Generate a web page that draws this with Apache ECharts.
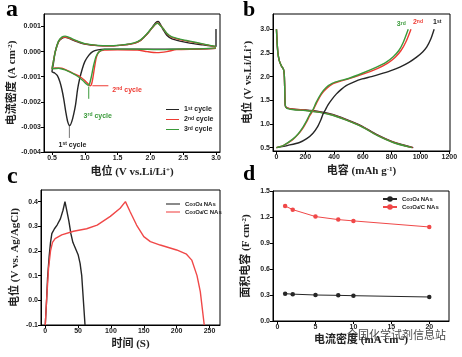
<!DOCTYPE html>
<html><head><meta charset="utf-8">
<script src="https://cdn.jsdelivr.net/npm/echarts@6/dist/echarts.min.js"></script>
<style>html,body{margin:0;padding:0;background:#fff}#c{width:462px;height:357px}</style>
</head><body><div id="c"></div>
<script>
// ---------- Panel a: CV curves (V, A cm^-2) ----------
const cvCycle1 = [[3.0,0.00013],[2.8,0.00011],[2.5,0.0001],[2.2,0.0001],[1.8,0.0001],[1.5,0.0001],[1.3,0.0001],[1.2,0.00007],[1.12,0.0],[1.06,-0.00015],[1.0,-0.0004],[0.96,-0.0007],[0.92,-0.0011],[0.89,-0.0015],[0.86,-0.0021],[0.83,-0.0025],[0.8,-0.0028],[0.77,-0.00295],[0.74,-0.0028],[0.71,-0.0024],[0.68,-0.0019],[0.65,-0.0015],[0.62,-0.0012],[0.58,-0.00095],[0.54,-0.00085],[0.5,-0.0008],[0.52,-0.0005],[0.55,0.0],[0.6,0.0004],[0.65,0.00053],[0.7,0.00057],[0.75,0.00054],[0.8,0.00048],[0.9,0.00038],[1.0,0.0003],[1.2,0.00024],[1.4,0.00023],[1.6,0.00027],[1.75,0.00033],[1.85,0.00045],[1.95,0.0007],[2.03,0.00098],[2.08,0.00115],[2.12,0.0012],[2.16,0.00105],[2.2,0.00085],[2.25,0.00065],[2.32,0.00052],[2.45,0.00042],[2.6,0.00034],[2.8,0.00027],[2.95,0.00022],[3.0,0.0002],[3.0,0.0009]];
const cvCycle2 = [[3.0,0.00013],[2.7,0.0001],[2.4,0.00008],[2.25,0.0],[2.1,-0.00004],[1.95,0.0],[1.8,0.00006],[1.5,0.00007],[1.3,0.00006],[1.22,0.0],[1.18,-0.0002],[1.15,-0.0006],[1.12,-0.0011],[1.1,-0.00132],[1.08,-0.00136],[1.05,-0.00128],[1.0,-0.00115],[0.93,-0.001],[0.85,-0.0009],[0.75,-0.00077],[0.65,-0.00066],[0.55,-0.00065],[0.5,-0.00068],[0.52,-0.0004],[0.55,0.0],[0.6,0.0004],[0.65,0.00055],[0.7,0.00058],[0.75,0.00055],[0.8,0.0005],[0.9,0.0004],[1.0,0.00031],[1.2,0.00024],[1.4,0.00023],[1.6,0.00027],[1.75,0.00033],[1.85,0.00045],[1.95,0.0007],[2.03,0.00095],[2.08,0.0011],[2.11,0.00114],[2.15,0.00105],[2.2,0.0009],[2.25,0.00072],[2.32,0.00058],[2.45,0.00048],[2.6,0.0004],[2.8,0.0003],[2.95,0.00022],[3.0,0.0002]];
const cvCycle3 = [[3.0,0.00015],[2.7,0.00011],[2.4,0.0001],[2.1,0.00008],[1.8,0.0001],[1.5,0.0001],[1.3,0.00009],[1.22,0.0],[1.17,-0.0002],[1.13,-0.0006],[1.1,-0.001],[1.07,-0.0013],[1.05,-0.00134],[1.02,-0.00128],[0.97,-0.00115],[0.9,-0.001],[0.8,-0.00085],[0.7,-0.00073],[0.6,-0.00066],[0.5,-0.00068],[0.52,-0.0004],[0.55,0.0],[0.6,0.00042],[0.65,0.00058],[0.7,0.00062],[0.75,0.00058],[0.8,0.00052],[0.9,0.00041],[1.0,0.00032],[1.2,0.00025],[1.4,0.00024],[1.6,0.00028],[1.75,0.00035],[1.85,0.00047],[1.95,0.00072],[2.03,0.00096],[2.08,0.0011],[2.11,0.00113],[2.15,0.00104],[2.2,0.0009],[2.25,0.00073],[2.32,0.0006],[2.45,0.0005],[2.6,0.00042],[2.8,0.00031],[2.95,0.00023],[3.0,0.00022]];

// ---------- Panel b: charge/discharge (mAh g^-1, V) ----------
const dis1 = [[0,3.0],[4,2.75],[10,2.5],[20,2.33],[35,2.22],[48,2.16],[54,2.05],[57,1.8],[59,1.5],[62,1.38],[72,1.34],[120,1.31],[200,1.295],[300,1.26],[390,1.2],[480,1.1],[590,0.96],[695,0.78],[810,0.62],[950,0.5]];
const dis2 = [[0,3.0],[4,2.75],[10,2.5],[20,2.33],[35,2.22],[48,2.16],[54,2.05],[57,1.8],[59,1.5],[62,1.38],[72,1.34],[120,1.31],[200,1.29],[300,1.25],[390,1.19],[480,1.09],[590,0.95],[695,0.77],[810,0.615],[945,0.5]];
const dis3 = [[0,3.0],[4,2.75],[10,2.5],[20,2.33],[35,2.22],[48,2.16],[54,2.05],[57,1.8],[59,1.5],[62,1.38],[72,1.33],[120,1.3],[200,1.285],[300,1.245],[390,1.185],[480,1.085],[590,0.945],[695,0.765],[810,0.61],[940,0.5]];
const chg1 = [[0,0.5],[80,0.55],[160,0.61],[210,0.69],[252,0.8],[285,0.94],[310,1.1],[322,1.2],[340,1.3],[357,1.4],[385,1.52],[415,1.63],[450,1.73],[484,1.81],[540,1.89],[595,1.95],[660,2.0],[718,2.05],[790,2.12],[857,2.2],[920,2.3],[973,2.41],[1015,2.52],[1043,2.62],[1070,2.78],[1095,3.0]];
const chg2 = [[0,0.5],[50,0.55],[113,0.67],[150,0.78],[185,0.92],[212,1.06],[232,1.18],[256,1.3],[278,1.44],[313,1.63],[348,1.75],[393,1.85],[440,1.9],[500,1.95],[600,2.05],[700,2.17],[770,2.28],[825,2.41],[865,2.55],[900,2.74],[934,3.0]];
const chg3 = [[0,0.5],[50,0.55],[113,0.68],[150,0.79],[183,0.93],[210,1.07],[229,1.19],[253,1.3],[275,1.45],[310,1.64],[345,1.77],[390,1.86],[438,1.91],[500,1.96],[595,2.07],[695,2.2],[760,2.3],[811,2.42],[850,2.55],[880,2.72],[915,3.0]];

// ---------- Panel c: GCD (s, V vs Ag/AgCl) ----------
const gcdCo3O4 = [[0,-0.1],[2,0.0],[3.5,0.09],[6,0.18],[8,0.235],[10,0.27],[14,0.29],[18,0.305],[23,0.33],[27,0.365],[30,0.4],[33,0.36],[36,0.32],[39,0.27],[42,0.235],[46,0.21],[50,0.185],[53,0.15],[55.5,0.1],[57,0.04],[58.5,-0.02],[60.5,-0.1]];
const gcdCo3O4C = [[0,-0.1],[2,0.0],[5,0.13],[8,0.2],[11,0.235],[15,0.25],[25,0.265],[43,0.28],[63,0.29],[79,0.305],[99,0.34],[114,0.373],[122,0.4],[129,0.36],[139,0.305],[150,0.258],[160,0.238],[175,0.224],[200,0.204],[215,0.187],[223,0.163],[231,0.1],[236,0.035],[242,-0.1]];

// ---------- Panel d: areal capacitance ----------
const dCurrent = [1,2,5,8,10,20];
const dCapCo3O4 = [0.315,0.31,0.3,0.296,0.292,0.277];
const dCapCo3O4C = [1.327,1.285,1.205,1.17,1.155,1.085];

// ---------- tick values ----------
const aXTicks = [0.5,1.0,1.5,2.0,2.5,3.0];
const aYTicks = [-0.004,-0.003,-0.002,-0.001,0,0.001];
const bXTicks = [0,200,400,600,800,1000,1200];
const bYTicks = [0.5,1.0,1.5,2.0,2.5,3.0];
const cXTicks = [0,50,100,150,200,250];
const cYTicks = [-0.1,0,0.1,0.2,0.3,0.4];
const dXTicks = [0,5,10,15,20];
const dYTicks = [0,0.3,0.6,0.9,1.2,1.5];

const BLACK = '#262626', RED = '#ee3b33', GREEN = '#3a9a3a';
const SERIF = "'Liberation Serif','Noto Sans CJK SC',serif";
const SANS = "'Liberation Sans',Arial,sans-serif";

const nameStyle = {
  fontSize: 11, fontWeight: 'bold', fontFamily: SERIF, color: '#222',
  rich: { sup: { fontSize: 7, fontWeight: 'bold', fontFamily: SERIF, color: '#222', verticalAlign: 'top' } }
};

function axis(gi, min, max, ticks, dec, name, gap) {
  return {
    type: 'value', gridIndex: gi, min: min, max: max,
    name: name, nameLocation: 'middle', nameGap: gap, nameTextStyle: nameStyle,
    axisLine: { show: true, onZero: false, lineStyle: { color: '#000', width: 1 } },
    axisTick: { show: true, inside: false, length: 3, customValues: ticks, lineStyle: { color: '#000', width: 1 } },
    axisLabel: { customValues: ticks, formatter: v => Number(v).toFixed(dec), fontSize: 7, fontWeight: 'bold',
      fontFamily: SANS, color: '#222', margin: 3 },
    splitLine: { show: false }
  };
}

function line(name, data, color, xi, smooth) {
  return { type: 'line', name: name, data: data, xAxisIndex: xi, yAxisIndex: xi, showSymbol: false,
    symbol: 'none', smooth: smooth, lineStyle: { color: color, width: 1.4 }, itemStyle: { color: color }, z: 3,
    animation: false };
}

const legendMap = {
  '1st cycle': '1{sup|st} cycle', '2nd cycle': '2{sup|nd} cycle', '3rd cycle': '3{sup|rd} cycle',
  'c_Co3O4': 'Co{sub|3}O{sub|4} NAs', 'c_Co3O4C': 'Co{sub|3}O{sub|4}/C NAs',
  'd_Co3O4': 'Co{sub|3}O{sub|4} NAs', 'd_Co3O4C': 'Co{sub|3}O{sub|4}/C NAs'
};
const legTS = (fs) => ({ fontSize: fs, fontWeight: 'bold', fontFamily: SANS, color: '#222',
  rich: { sup: { fontSize: fs - 2, fontWeight: 'bold', fontFamily: SANS, color: '#222', verticalAlign: 'top' },
          sub: { fontSize: fs - 2, fontWeight: 'bold', fontFamily: SANS, color: '#222', verticalAlign: 'bottom' } } });

const chart = echarts.init(document.getElementById('c'), null, { renderer: 'canvas' });
const gridStyle = { show: true, borderColor: '#000', borderWidth: 1, backgroundColor: 'transparent', containLabel: false };

chart.setOption({
  animation: false,
  backgroundColor: '#fff',
  grid: [
    Object.assign({ left: 44, top: 14, width: 176, height: 138 }, gridStyle),
    Object.assign({ left: 273, top: 14, width: 177, height: 137 }, gridStyle),
    Object.assign({ left: 41, top: 190, width: 179, height: 135 }, gridStyle),
    Object.assign({ left: 273, top: 191, width: 176, height: 130 }, gridStyle)
  ],
  xAxis: [
    axis(0, 0.378, 3.061, aXTicks, 1, '电位 (V vs.Li/Li{sup|+})', 15),
    axis(1, -24, 1205, bXTicks, 0, '电容 (mAh g{sup|-1})', 15),
    axis(2, -6.5, 266, cXTicks, 0, '时间 (S)', 14),
    axis(3, -0.6, 22.6, dXTicks, 0, '电流密度 (mA cm{sup|-2})', 14)
  ],
  yAxis: [
    axis(0, -0.004, 0.0015, aYTicks, 3, '电流密度 (A cm{sup|-2})', 25),
    axis(1, 0.43, 3.32, bYTicks, 1, '电位 (V vs.Li/Li{sup|+})', 19),
    axis(2, -0.1, 0.447, cYTicks, 1, '电位 (V vs. Ag/AgCl)', 20),
    axis(3, 0, 1.5, dYTicks, 1, '面积电容 (F cm{sup|-2})', 21)
  ],
  legend: [
    { data: ['1st cycle', '2nd cycle', '3rd cycle'], orient: 'vertical', left: 166, top: 106, padding: 0,
      itemGap: 3, itemWidth: 13, itemHeight: 8, icon: 'path://M0,4L13,4L13,5L0,5Z',
      formatter: n => legendMap[n], textStyle: legTS(7), selectedMode: false },
    { data: ['c_Co3O4', 'c_Co3O4C'], orient: 'vertical', left: 166, top: 201, padding: 0,
      itemGap: 2, itemWidth: 14, itemHeight: 8, icon: 'path://M0,4L13,4L13,5L0,5Z',
      formatter: n => legendMap[n], textStyle: legTS(6), selectedMode: false },
    { data: ['d_Co3O4', 'd_Co3O4C'], orient: 'vertical', left: 382, top: 196, padding: 0,
      itemGap: 2, itemWidth: 14, itemHeight: 7,
      formatter: n => legendMap[n], textStyle: legTS(6), selectedMode: false }
  ],
  series: [
    line('1st cycle', cvCycle1, BLACK, 0, 0.25),
    line('2nd cycle', cvCycle2, RED, 0, 0.25),
    line('3rd cycle', cvCycle3, GREEN, 0, 0.25),
    line('b_dis1', dis1, BLACK, 1, 0.25),
    line('b_dis2', dis2, RED, 1, 0.25),
    line('b_dis3', dis3, GREEN, 1, 0.25),
    line('b_chg1', chg1, BLACK, 1, 0.25),
    line('b_chg2', chg2, RED, 1, 0.25),
    line('b_chg3', chg3, GREEN, 1, 0.25),
    line('c_Co3O4', gcdCo3O4, BLACK, 2, false),
    line('c_Co3O4C', gcdCo3O4C, '#f04848', 2, false),
    { type: 'line', name: 'd_Co3O4', xAxisIndex: 3, yAxisIndex: 3, data: dCurrent.map((x, i) => [x, dCapCo3O4[i]]),
      symbol: 'circle', symbolSize: 4.5, lineStyle: { color: BLACK, width: 1 }, itemStyle: { color: BLACK } },
    { type: 'line', name: 'd_Co3O4C', xAxisIndex: 3, yAxisIndex: 3, data: dCurrent.map((x, i) => [x, dCapCo3O4C[i]]),
      symbol: 'circle', symbolSize: 4.5, lineStyle: { color: '#f04848', width: 1 }, itemStyle: { color: '#f04848' } }
  ]
});

// ---------- annotations placed from data coordinates ----------
function px(gi, pt) { return chart.convertToPixel({ xAxisIndex: gi, yAxisIndex: gi }, pt); }
const annoTS = (color, fs) => ({ fontSize: fs, fontWeight: 'bold', fontFamily: SANS, fill: color,
  rich: { sup: { fontSize: fs - 2, fontWeight: 'bold', fontFamily: SANS, fill: color, verticalAlign: 'top' } } });

const p1 = px(0, [0.765, -0.00292]), p1b = px(0, [0.765, -0.00344]);
const p2 = px(0, [1.1, -0.00136]), p3 = px(0, [1.06, -0.00139]), p3b = px(0, [1.06, -0.00188]);
const eB1 = px(1, chg1[chg1.length - 1]), eB2 = px(1, chg2[chg2.length - 1]), eB3 = px(1, chg3[chg3.length - 1]);

const graphics = [
  { type: 'line', shape: { x1: p1[0], y1: p1[1], x2: p1b[0], y2: p1b[1] }, style: { stroke: '#777', lineWidth: 1 } },
  { type: 'text', x: p1[0] + 3, y: p1b[1] + 7, style: Object.assign({ text: '1{sup|st} cycle', align: 'center', verticalAlign: 'middle' }, annoTS('#222', 7)) },
  { type: 'line', shape: { x1: p2[0] + 1, y1: p2[1], x2: p2[0] + 17, y2: p2[1] }, style: { stroke: RED, lineWidth: 1 } },
  { type: 'text', x: p2[0] + 21, y: p2[1] + 4, style: Object.assign({ text: '2{sup|nd} cycle', align: 'left', verticalAlign: 'middle' }, annoTS(RED, 7)) },
  { type: 'line', shape: { x1: p3[0], y1: p3[1], x2: p3b[0], y2: p3b[1] }, style: { stroke: GREEN, lineWidth: 1 } },
  { type: 'text', x: p3[0] + 9, y: p3b[1] + 17, style: Object.assign({ text: '3{sup|rd} cycle', align: 'center', verticalAlign: 'middle' }, annoTS(GREEN, 7)) },
  { type: 'text', x: eB3[0] - 7, y: eB3[1] - 5, style: Object.assign({ text: '3{sup|rd}', align: 'center', verticalAlign: 'middle' }, annoTS(GREEN, 7)) },
  { type: 'text', x: eB2[0] + 7, y: eB2[1] - 7, style: Object.assign({ text: '2{sup|nd}', align: 'center', verticalAlign: 'middle' }, annoTS(RED, 7)) },
  { type: 'text', x: eB1[0] + 3, y: eB1[1] - 7, style: Object.assign({ text: '1{sup|st}', align: 'center', verticalAlign: 'middle' }, annoTS('#222', 7)) },
  // panel letters
  { type: 'text', left: 6, top: -2, style: { text: 'a', fontSize: 24, fontWeight: 'bold', fontFamily: SERIF, fill: '#000' } },
  { type: 'text', left: 243, top: -1, style: { text: 'b', fontSize: 22, fontWeight: 'bold', fontFamily: SERIF, fill: '#000' } },
  { type: 'text', left: 7, top: 165, style: { text: 'c', fontSize: 24, fontWeight: 'bold', fontFamily: SERIF, fill: '#000' } },
  { type: 'text', left: 243, top: 163, style: { text: 'd', fontSize: 22, fontWeight: 'bold', fontFamily: SERIF, fill: '#000' } },
  // watermark
  { type: 'text', left: 347, top: 329, z: 100, style: { text: '全国化学试剂信息站', fontSize: 11, fontFamily: "'Noto Sans CJK SC'", fill: 'rgba(40,40,40,0.85)' } }
];
chart.setOption({ graphic: graphics });
</script>
</body></html>
